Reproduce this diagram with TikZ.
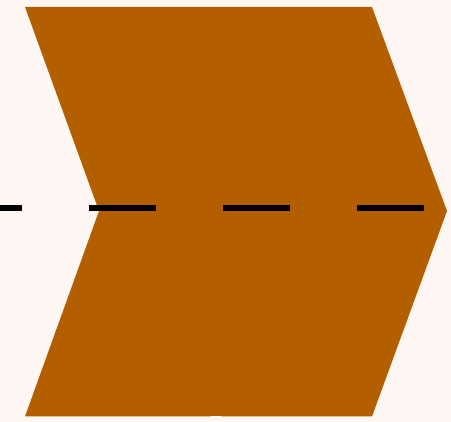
\documentclass[tikz,border=0pt]{standalone}
\usepackage{tikz}
\usepackage{xcolor}
\definecolor{bgpaper}{HTML}{FEF6F2}
\definecolor{chevron}{HTML}{B35F00}

\begin{document}
\begin{tikzpicture}[
        x=1pt, y=-1pt,
        axisdash/.style={line width=6pt, black,
                         dash pattern=on 67pt off 67pt, dash phase=45pt}
      ]
      \fill[bgpaper] (0,0) rectangle (451,422);
      \useasboundingbox (0,0) rectangle (451,422);
      % chevron body
      \fill[chevron] (25,7) -- (372,7) -- (447,211) -- (372,416.5)
                     -- (25,416.5) -- (99,211) -- cycle;
      \fill[white] (211,416.5) rectangle (221,418.5);
      % axis through the notch
      \coordinate (axisL) at (0,208.5);
      \coordinate (axisR) at (424,208.5);
      \draw[axisdash] (axisL) -- (axisR);
    \end{tikzpicture}
\end{document}
